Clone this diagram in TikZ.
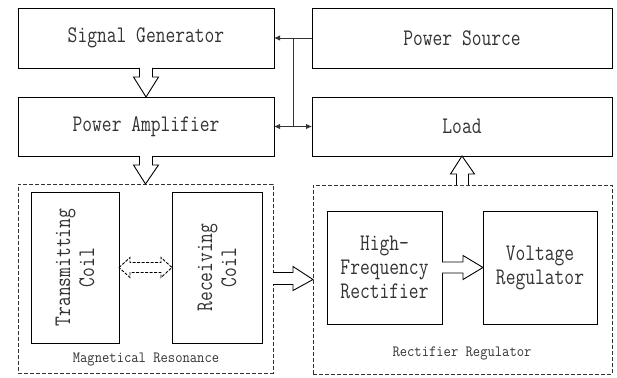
\documentclass[tikz,border=0pt]{standalone}
\usepackage{fontspec}
\usepackage{graphicx}
\usetikzlibrary{calc,arrows.meta}
\newcommand\tallT[1]{\scalebox{1}[1.25]{#1}}
\newcommand\tallS[1]{\scalebox{1}[1.1]{#1}}
\begin{document}
\begin{tikzpicture}[x=1pt,y=-1pt,
  box/.style={draw=black, line width=0.9pt, rectangle, inner sep=0pt, outer sep=0pt,
    font=\ttfamily\fontsize{19}{24}\selectfont, text=black!80, align=center},
  group/.style={draw=black!80, line width=0.8pt, dash pattern=on 4pt off 2pt, rectangle, inner sep=0pt, outer sep=0pt},
  grouplabel/.style={font=\ttfamily\fontsize{14.2}{17}\selectfont, text=black!80, inner sep=0pt},
  blockarrow/.style={draw=black, line width=0.9pt, fill=white, line join=miter},
  dblock/.style={draw=black, line width=0.9pt, fill=white, dash pattern=on 3pt off 1.5pt},
  wire/.style={draw=black!80, line width=0.9pt},
  tip/.style={-{Latex[length=6pt,width=5.5pt]}},
  dtip/.style={{Latex[length=6pt,width=5.5pt]}-{Latex[length=6pt,width=5.5pt]}}
]
\useasboundingbox (0,0) rectangle (617,377);

% top boxes
\node[box, minimum width=256pt, minimum height=60pt] (sg) at (146,38) {\tallT{Signal Generator}};
\node[box, minimum width=300pt, minimum height=60pt] (ps) at (462,38) {\tallT{Power Source}};
\node[box, minimum width=256pt, minimum height=59pt] (pa) at (146,126.5) {\tallT{Power Amplifier}};
\node[box, minimum width=300pt, minimum height=59pt] (load) at (462,126.5) {\tallT{Load}};

% groups
\node[group, minimum width=255pt, minimum height=189pt] (mr) at (145.5,278.5) {};
\node[group, minimum width=299pt, minimum height=189pt] (rr) at (462.5,279.5) {};
\node[grouplabel] (mrlabel) at (146,360) {\tallS{Magnetical Resonance}};
\node[grouplabel] (rrlabel) at (462,353) {\tallS{Rectifier Regulator}};

% inner boxes
\node[box, minimum width=88pt, minimum height=151pt] (tc) at (75,267.5) {};
\node[box, rotate=90, draw=none] (tctext) at (tc.center) {\tallT{Transmitting}\\\tallT{Coil}};
\node[box, minimum width=90pt, minimum height=151pt] (rc) at (217,267.5) {};
\node[box, rotate=90, draw=none] (rctext) at (rc.center) {\tallT{Receiving}\\\tallT{Coil}};
\node[box, minimum width=115pt, minimum height=113pt] (hfr) at (384.5,267.5) {\tallT{High-}\\\tallT{Frequency}\\\tallT{Rectifier}};
\node[box, minimum width=114pt, minimum height=113pt] (vr) at (540,267.5) {\tallT{Voltage}\\\tallT{Regulator}};

% block arrow: signal generator -> power amplifier
\draw[blockarrow] ($(sg.south)+(-6.5,0)$) -- ($(sg.south)+(-6.5,9)$) -- ($(sg.south)+(-12.5,9)$)
  -- (pa.north) -- ($(sg.south)+(12.5,9)$) -- ($(sg.south)+(6.5,9)$) -- ($(sg.south)+(6.5,0)$);
% block arrow: power amplifier -> magnetical resonance
\draw[blockarrow] ($(pa.south)+(-6.5,0)$) -- ($(pa.south)+(-6.5,9)$) -- ($(pa.south)+(-12.5,9)$)
  -- (mr.north) -- ($(pa.south)+(12.5,9)$) -- ($(pa.south)+(6.5,9)$) -- ($(pa.south)+(6.5,0)$);
% block arrow: rectifier regulator -> load
\draw[blockarrow] ($(rr.north)+(-6,0)$) -- ($(rr.north)+(-6,-11)$) -- ($(rr.north)+(-12,-11)$)
  -- (load.south) -- ($(rr.north)+(12,-11)$) -- ($(rr.north)+(6,-11)$) -- ($(rr.north)+(6,0)$);
% block arrow: magnetical resonance -> rectifier regulator
\draw[blockarrow] ($(mr.east)+(0,-6)$) -- ($(mr.east)+(20,-6)$) -- ($(mr.east)+(20,-12)$)
  -- (rr.west) -- ($(mr.east)+(20,12)$) -- ($(mr.east)+(20,6)$) -- ($(mr.east)+(0,6)$);
% block arrow: high-frequency rectifier -> voltage regulator
\draw[blockarrow] ($(hfr.east)+(0,-5.5)$) -- ($(hfr.east)+(21,-5.5)$) -- ($(hfr.east)+(21,-12)$)
  -- (vr.west) -- ($(hfr.east)+(21,12)$) -- ($(hfr.east)+(21,5.5)$) -- ($(hfr.east)+(0,5.5)$);
% dashed double block arrow: transmitting coil <-> receiving coil
\draw[dblock] (tc.east) -- ($(tc.east)+(11,-10)$) -- ($(tc.east)+(11,-5)$) -- ($(rc.west)+(-11,-5)$)
  -- ($(rc.west)+(-11,-10)$) -- (rc.west) -- ($(rc.west)+(-11,10)$) -- ($(rc.west)+(-11,5)$)
  -- ($(tc.east)+(11,5)$) -- ($(tc.east)+(11,10)$) -- cycle;

% wires
\coordinate (j1) at ($(sg.east)!0.5!(ps.west)$);
\coordinate (j2) at ($(pa.east)!0.5!(load.west)$);
\draw[wire, tip] (ps.west) -- (sg.east);
\draw[wire] (j1) -- (j2);
\draw[wire, dtip] (pa.east) -- (load.west);
\end{tikzpicture}
\end{document}
